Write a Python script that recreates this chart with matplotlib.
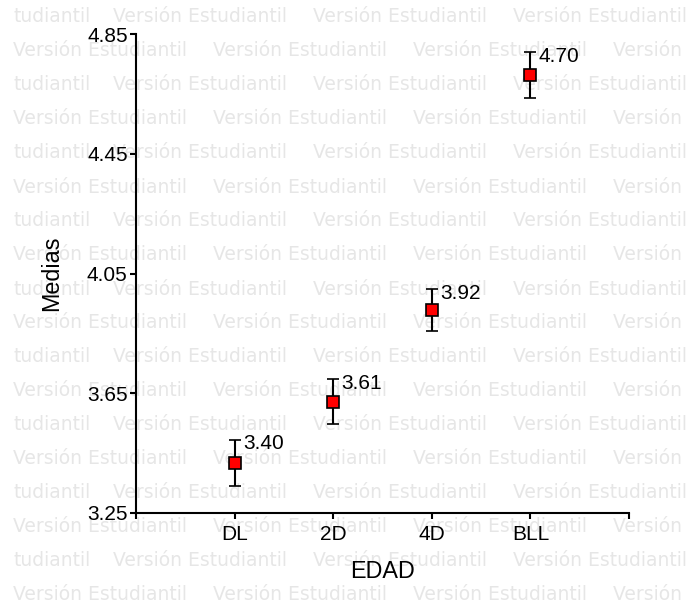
import numpy as np
import matplotlib
matplotlib.use("Agg")
import matplotlib.pyplot as plt

# datos
categorias = ["DL", "2D", "4D", "BLL"]
medias = [3.417, 3.622, 3.928, 4.713]
errores = [0.078, 0.075, 0.07, 0.077]
etiquetas = ["3.40", "3.61", "3.92", "4.70"]
yticks = [3.25, 3.65, 4.05, 4.45, 4.85]

plt.rcParams['font.family'] = ['Liberation Sans', 'DejaVu Sans']

W, H = 689, 607
fig = plt.figure(figsize=(W / 100, H / 100), dpi=100)
fig.patch.set_facecolor("white")

# marca de agua
wm = dict(fontsize=13.5, family="DejaVu Sans", color="#e6e6e6",
          va="center", ha="left", zorder=-10)
for i, yy in enumerate(range(17, H + 20, 34)):
    if i % 2 == 0:
        fig.text(13 / W, 1 - yy / H, "tudiantil", **wm)
        x0 = 113
    else:
        x0 = 13
    for xx in range(x0, W, 200):
        fig.text(xx / W, 1 - yy / H, "Versión Estudiantil", **wm)

ax = fig.add_axes([136 / W, 1 - 513 / H, (629 - 136) / W, (513 - 34) / H])
ax.patch.set_visible(False)

x = np.arange(1, len(categorias) + 1)
ax.errorbar(x, medias, yerr=errores, fmt="s", color="black", ecolor="black",
            elinewidth=1.5, capsize=4, capthick=1.5, markersize=8,
            markerfacecolor="red", markeredgecolor="black", markeredgewidth=1.2)

for xi, m, e, t in zip(x, medias, errores, etiquetas):
    ax.annotate(t, (xi, m + e), xytext=(6, -3), textcoords="offset points",
                fontsize=15, va="center", ha="left")

ax.set_xlim(0, 5)
ax.set_ylim(3.25, 4.85)
ax.set_xticks(range(0, 6))
ax.set_xticklabels([""] + categorias + [""])
ax.set_yticks(yticks)
ax.set_yticklabels([f"{v:.2f}" for v in yticks])
ax.tick_params(axis="both", labelsize=15, width=1.5, length=4, color="black")
ax.tick_params(axis="x", pad=5)
ax.tick_params(axis="y", pad=2)

for s in ["top", "right"]:
    ax.spines[s].set_visible(False)
for s in ["left", "bottom"]:
    ax.spines[s].set_linewidth(1.5)

ax.set_xlabel("EDAD", fontsize=16.8, labelpad=11)
ax.set_ylabel("Medias", fontsize=16.8, labelpad=17)

fig.savefig("out.png", dpi=100)
